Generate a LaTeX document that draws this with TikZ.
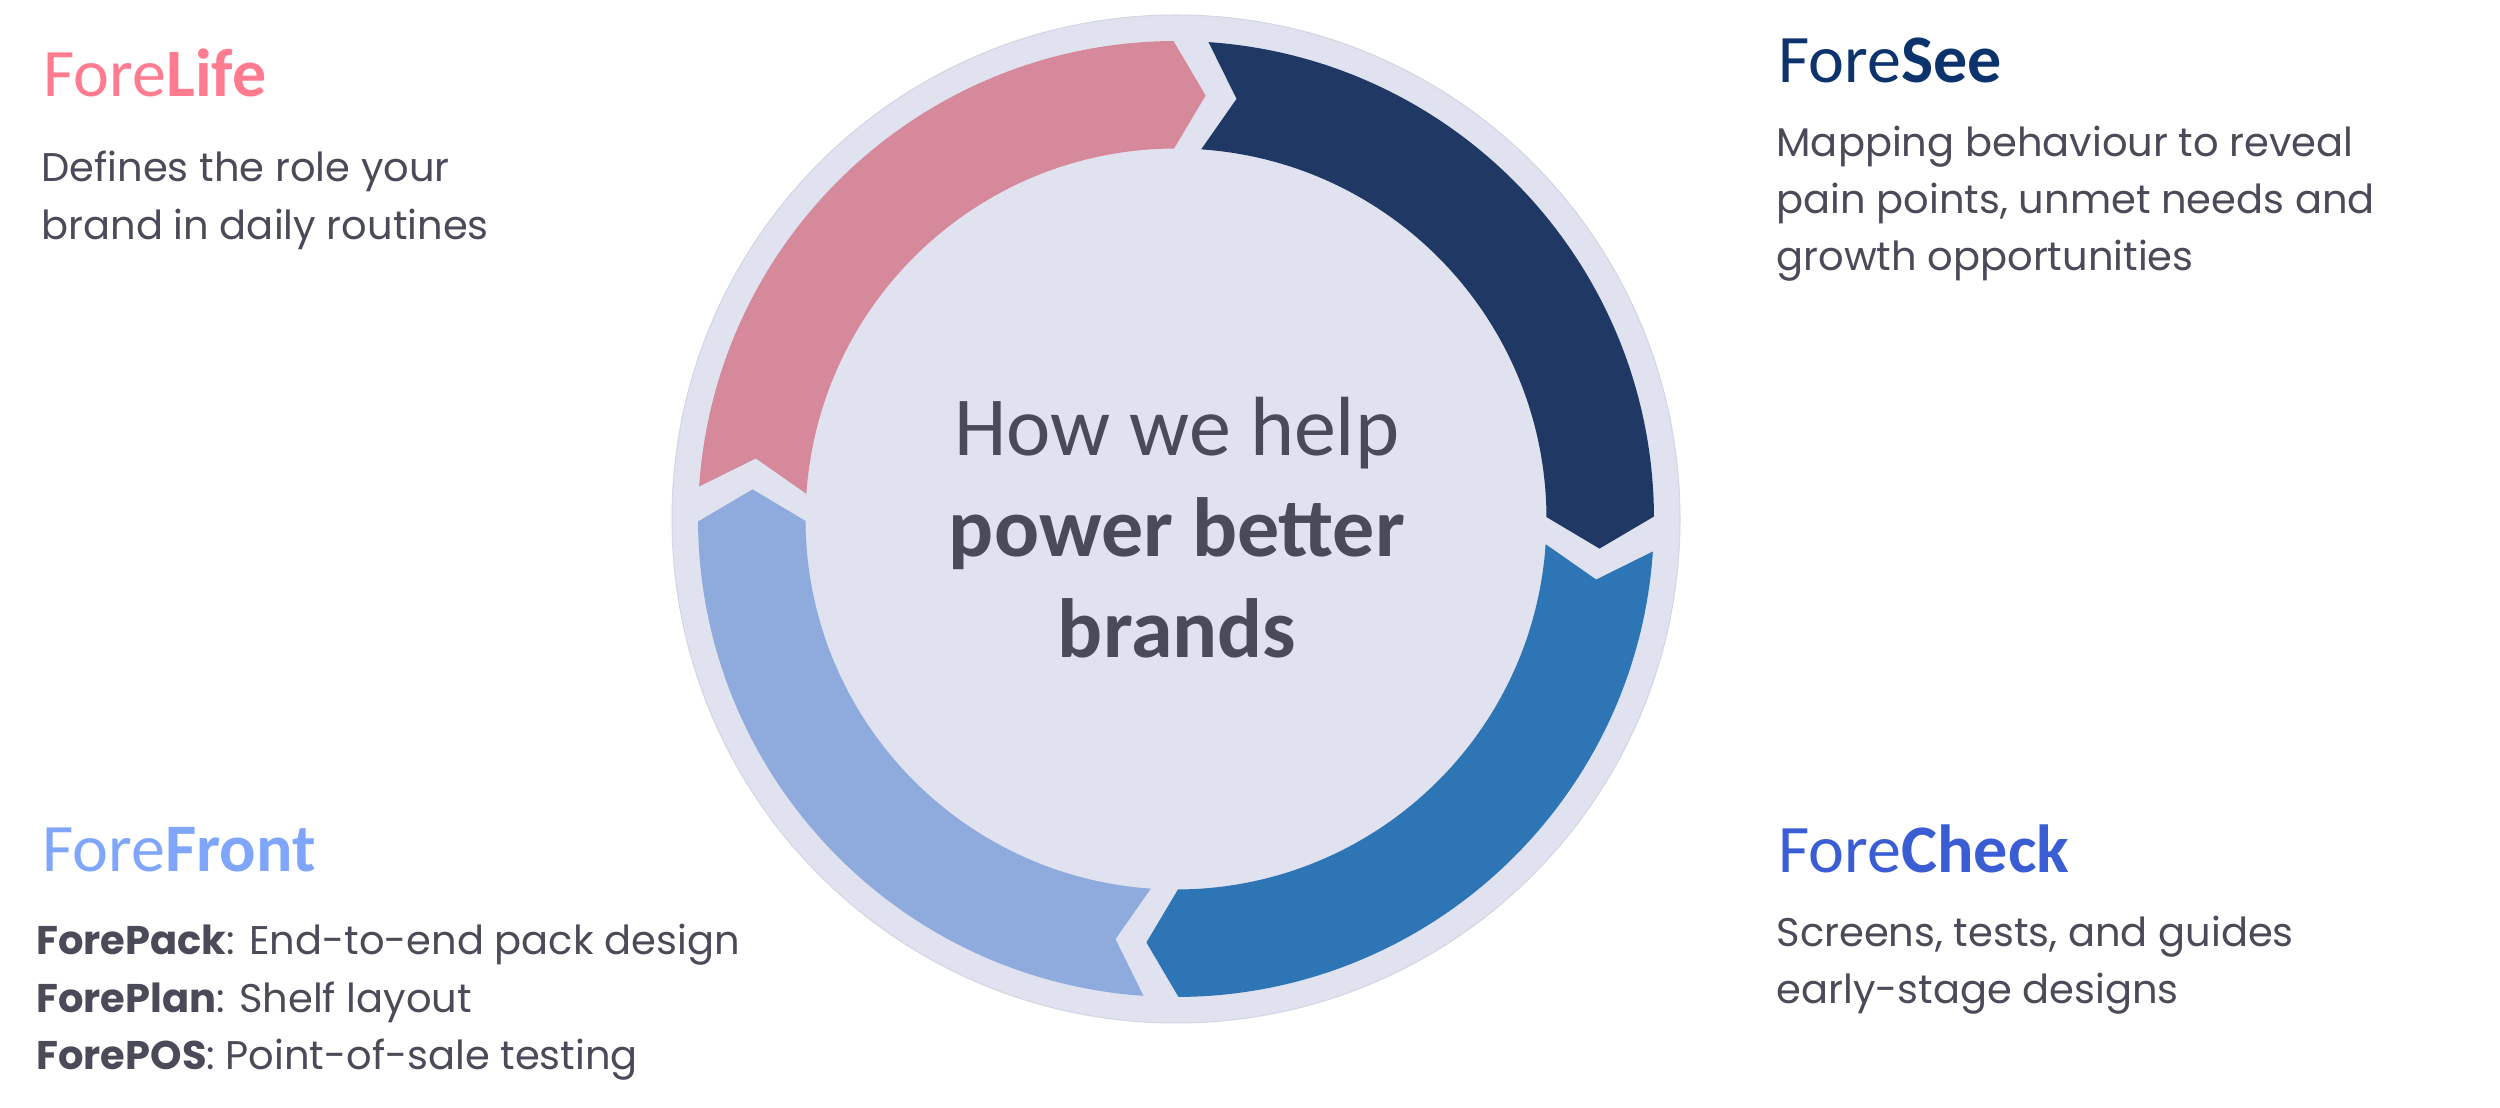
\documentclass[tikz,border=0pt]{standalone}
\usepackage{fontspec}
\setmainfont{Poppins}
\newfontfamily\calibri{Carlito}
\usepackage{tikz}

\definecolor{disc}{HTML}{E0E3EF}
\definecolor{discedge}{HTML}{D2D5E2}
\definecolor{navy}{HTML}{1F3864}
\definecolor{midblue}{HTML}{2E75B6}
\definecolor{paleblue}{HTML}{8FAADC}
\definecolor{rose}{HTML}{D6899B}
\definecolor{txtgray}{HTML}{4A4A58}
\definecolor{lifepink}{HTML}{FF7C90}
\definecolor{seenavy}{HTML}{0C336B}
\definecolor{checkblue}{HTML}{3A5DD3}
\definecolor{frontblue}{HTML}{80A6FB}

\tikzset{
  heading/.style={anchor=base west, inner sep=0pt, font=\calibri\fontsize{27.2}{32}\selectfont},
  body/.style={anchor=base west, inner sep=0pt, text=txtgray, font=\fontsize{16}{23}\selectfont},
  hub/.style={anchor=base, inner sep=0pt, text=txtgray, font=\calibri\fontsize{33.6}{40}\selectfont},
}

\begin{document}
\begin{tikzpicture}[x=0.4pt, y=0.4pt]
    \useasboundingbox (0,0) rectangle (2500,1107);

    % disc behind the cycle
    \fill[disc] (1176,588) circle[radius=504];
    \draw[discedge, line width=0.4pt] (1176,588) circle[radius=504];

    % four arrows, clockwise, head angle / colour
    \begin{scope}[shift={(1176,588)}]
        \foreach \h/\col in {0.3/navy, -89.7/midblue, 180.3/paleblue, 90.3/rose} {
            \fill[\col] ({\h+85.8}:478) arc[start angle=\h+85.8, end angle=\h, radius=478]
                -- ({\h-4.3}:424.5) -- (\h:370.5)
                arc[start angle=\h, end angle=\h+85.8, radius=370.5]
                -- ({\h+81.5}:424.5) -- cycle;
        }
    \end{scope}

    % centre text
    \node[hub] (how) at (1177,651) {How we help};
    \node[hub] (power) at (1177,550) {\bfseries power better};
    \node[hub] (brands) at (1177,449) {\bfseries brands};

    % ForeLife
    \node[heading, text=lifepink] (life) at (43,1010) {Fore\textbf{Life}};
    \foreach \i/\txt in {0/{Defines the role your}, 1/{brand in daily routines}} {
        \node[body] (life\i) at (41,925-58*\i) {\txt};
    }

    % ForeSee
    \node[heading, text=seenavy] (see) at (1778,1024) {Fore\textbf{See}};
    \foreach \i/\txt in {0/{Mapping behaviour to reveal}, 1/{pain points, unmet needs and}, 2/{growth opportunities}} {
        \node[body] (see\i) at (1776,950-57*\i) {\txt};
    }

    % ForeCheck
    \node[heading, text=checkblue] (check) at (1778,234) {Fore\textbf{Check}};
    \foreach \i/\txt in {0/{Screens, tests, and guides}, 1/{early-stage designs}} {
        \node[body] (check\i) at (1776,160-56*\i) {\txt};
    }

    % ForeFront
    \node[heading, text=frontblue] (front) at (42,235) {Fore\textbf{Front}};
    \node[body] (pack) at (36,153) {\textbf{ForePack}: End-to-end pack design};
    \node[body] (plan) at (36,95) {\textbf{ForePlan}: Shelf layout};
    \node[body] (pos) at (36,38) {\textbf{ForePOS}: Point-of-sale testing};
\end{tikzpicture}
\end{document}
